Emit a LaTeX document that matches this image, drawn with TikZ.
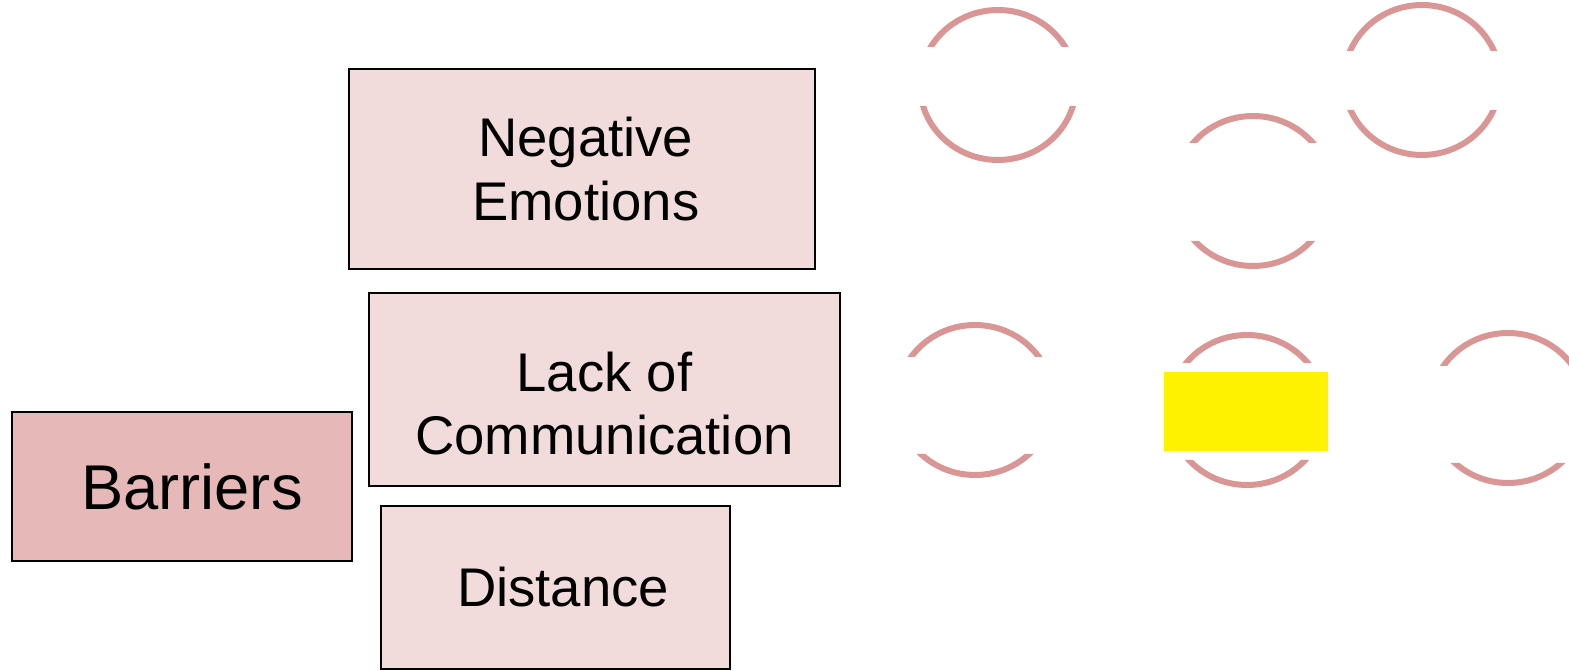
\documentclass[tikz,border=0pt]{standalone}
\usepackage{fontspec}
\setmainfont{Liberation Sans}
\definecolor{ringred}{RGB}{217,150,148}
\definecolor{boxpink}{RGB}{242,220,219}
\definecolor{barrierpink}{RGB}{230,184,183}
\tikzset{
  itembox/.style={draw=black, line width=1.1pt, fill=boxpink, align=center,
    inner sep=0pt, font=\fontsize{31}{36}\selectfont},
  ringarc/.style={draw=ringred, line width=0.12cm}
}
\begin{document}
\begin{tikzpicture}[x=0.02cm, y=-0.02cm] %Barreras
    \useasboundingbox (0,0) rectangle (1569,671);

    \node[itembox, minimum width=9.32cm, minimum height=4cm] (neg) at (582,169) {\hspace{0.15cm}Negative\\\hspace{0.15cm}Emotions};
    \node[itembox, minimum width=9.42cm, minimum height=3.86cm] (lack) at (604.5,389.5) {\rule{0pt}{1.36cm}Lack of\\Communication};
    \node[itembox, minimum width=6.98cm, minimum height=3.26cm] (dist) at (555.5,587.5) {\hspace{0.3cm}Distance};
    \node[itembox, fill=barrierpink, minimum width=6.8cm, minimum height=2.98cm,
      font=\fontsize{36}{42}\selectfont] (barr) at (182,486.5) {\hspace{0.4cm}Barriers};

    % anillos partidos
    \foreach \cx/\cy/\ta/\tb in {998/85/47/106, 1253/191/143/241, 1422/80/51/110,
                                 975/400/357/454, 1247/410/363/460, 1508/408/366/463} {
        \begin{scope}
            \clip (\cx-90,\cy-90) rectangle (\cx+90,\ta)
                  (\cx-90,\tb) rectangle (\cx+90,\cy+90);
            \draw[ringarc] (\cx,\cy) ellipse (1.56cm and 1.5cm);
        \end{scope}
    }

    \fill[yellow] (1164,372) rectangle (1328,451);
\end{tikzpicture}
\end{document}
